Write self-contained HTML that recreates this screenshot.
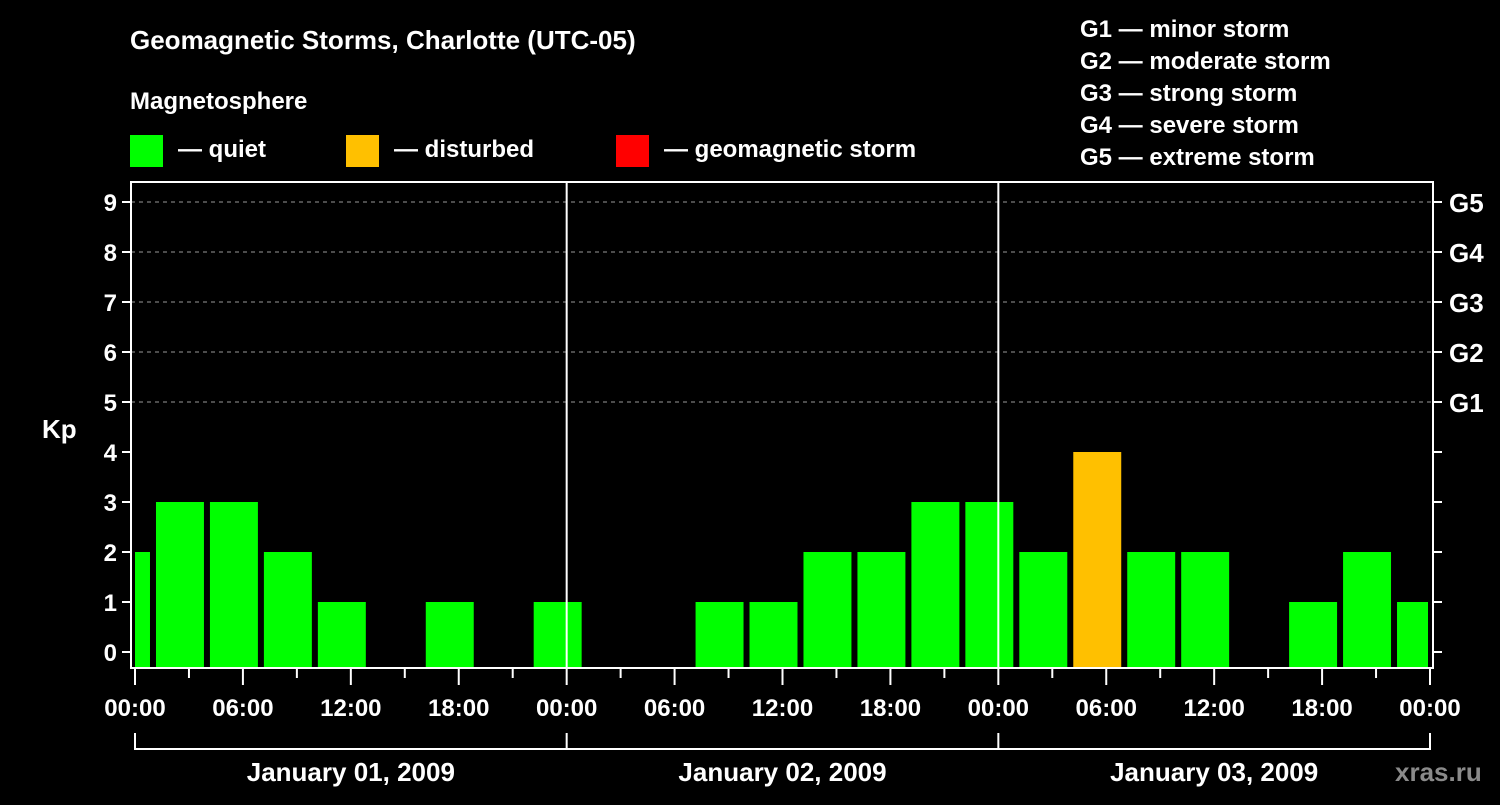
<!DOCTYPE html>
<html><head><meta charset="utf-8"><style>
body{margin:0;background:#000;width:1500px;height:800px;overflow:hidden}
svg text{font-family:"Liberation Sans",sans-serif;font-weight:bold;fill:#fff}
</style></head><body>
<svg id="c" width="1500" height="800" xmlns="http://www.w3.org/2000/svg">
<rect width="1500" height="800" fill="#000"/>
<text x="130" y="49" font-size="26">Geomagnetic Storms, Charlotte (UTC-05)</text>
<text x="130" y="109" font-size="24">Magnetosphere</text>
<g><rect x="130" y="135" width="33" height="32" fill="#00ff00"/><text x="178" y="157" font-size="24">— quiet</text></g>
<g><rect x="346" y="135" width="33" height="32" fill="#ffc000"/><text x="394" y="157" font-size="24">— disturbed</text></g>
<g><rect x="616" y="135" width="33" height="32" fill="#ff0000"/><text x="664" y="157" font-size="24">— geomagnetic storm</text></g>
<g font-size="24">
<text x="1080" y="37">G1 — minor storm</text>
<text x="1080" y="69">G2 — moderate storm</text>
<text x="1080" y="101">G3 — strong storm</text>
<text x="1080" y="133">G4 — severe storm</text>
<text x="1080" y="165">G5 — extreme storm</text>
</g>
<text x="42" y="438" font-size="26">Kp</text>
<g id="plot"></g>
<text x="1395" y="781" font-size="26" fill="#888" style="fill:#8a8a8a">xras.ru</text>
</svg>
<script>
const values=[2,3,3,2,1,0,1,0,1,0,0,1,1,2,2,3,3,2,4,2,2,0,1,2,1];
const yTicks=[0,1,2,3,4,5,6,7,8,9];
const gLabels=["G1","G2","G3","G4","G5"];
const xTickLabels=["00:00","06:00","12:00","18:00"];
const dayLabels=["January 01, 2009","January 02, 2009","January 03, 2009"];
const firstBarStartHour=-2;
const NS="http://www.w3.org/2000/svg";
const X0=135,X1=1430,HOURS=72,L=131,R=1433,T=182,B=668;
const x=h=>X0+h*(X1-X0)/HOURS;
const y=v=>652-v*50;
const g=document.getElementById('plot');
function mk(t,a){const e=document.createElementNS(NS,t);for(const k in a)e.setAttribute(k,a[k]);g.appendChild(e);return e;}
// grid
yTicks.forEach(v=>{
 if(v>=5){const l=mk('line',{x1:L,x2:R,y1:y(v),y2:y(v),stroke:'#999','stroke-dasharray':'4,4','stroke-width':1});
 
 }
 const tk=mk('line',{x1:L-9,x2:L,y1:y(v),y2:y(v),stroke:'#fff','stroke-width':2});
 
 
 const t=mk('text',{x:L-14,y:y(v)+9,'font-size':24,'text-anchor':'end'});t.textContent=v;
 
 
 const rt=mk('line',{x1:R,x2:R+9,y1:y(v),y2:y(v),stroke:'#fff','stroke-width':2});
 
 
 if(v>=5){const gt=mk('text',{x:R+16,y:y(v)+10,'font-size':26});gt.textContent=gLabels[v-5];
 
 }
});
// bars
const bw=48/54*3;
values.forEach((v,i)=>{
 if(v<=0)return;
 const c=firstBarStartHour+i*3+1.5;
 let a=Math.max(x(c-bw/2),X0),b=Math.min(x(c+bw/2),X1-2);
 const col=v>=5?'#ff0000':(v>=4?'#ffc000':'#00ff00');
 const r=mk('rect',{x:a,y:y(v),width:b-a,height:B-y(v),fill:col});
 
 
});
// day dividers
[1,2].forEach(d=>{const l=mk('line',{x1:x(d*24),x2:x(d*24),y1:T,y2:B,stroke:'#fff','stroke-width':2});
 
 });
const fr=mk('rect',{x:L,y:T,width:R-L,height:B-T,fill:'none',stroke:'#fff','stroke-width':2});


// x ticks
for(let h=0;h<=HOURS;h+=3){
 const major=h%6==0;
 const l=mk('line',{x1:x(h),x2:x(h),y1:B,y2:major?685:678,stroke:'#fff','stroke-width':2});
 
 
 if(major){const t=mk('text',{x:x(h),y:716,'font-size':24,'text-anchor':'middle'});t.textContent=xTickLabels[(h/6)%4];
 
 }
}
// day brackets
const br=mk('path',{d:`M${x(0)},733V749H${x(72)}V733M${x(24)},733V749M${x(48)},733V749`,fill:'none',stroke:'#fff','stroke-width':2});


dayLabels.forEach((s,d)=>{const t=mk('text',{x:x(d*24+12),y:781,'font-size':26,'text-anchor':'middle'});t.textContent=s;
 
 });
</script>
</body></html>
